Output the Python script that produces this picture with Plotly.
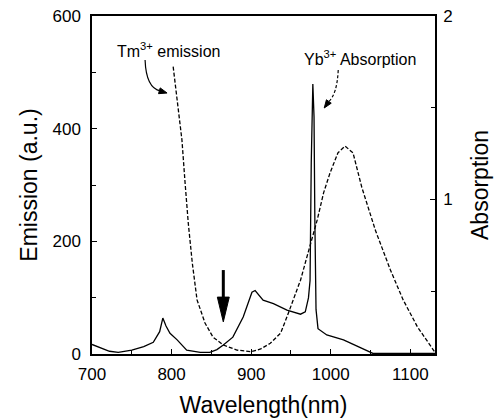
import plotly.graph_objects as go

# Tm3+ emission (dashed, left axis, a.u.)
em_nm = [802, 807, 813, 817, 821, 826, 832, 842, 852, 865, 882, 900, 912, 924, 937, 945,
         953, 962, 970, 983, 991, 999, 1009, 1018, 1028, 1039, 1052, 1056, 1075, 1091,
         1109, 1125, 1131]
em_val = [510, 451, 380, 303, 232, 162, 96, 55, 30, 16, 7, 4, 9, 19, 37, 66,
          96, 131, 172, 238, 286, 321, 357, 369, 357, 296, 238, 220, 149, 96,
          48, 16, 3]

# Yb3+ absorption (solid, right axis)
ab_nm = [700, 710, 722, 733, 750, 765, 777, 785, 789, 793, 798, 807, 819, 836, 848, 857,
         865, 877, 890, 901, 905, 915, 928, 945, 962, 968, 972, 974, 975.5, 977.5, 979,
         980, 981.5, 984, 995, 1016, 1037, 1053, 1080, 1131]
ab_val = [0.209, 0.191, 0.172, 0.166, 0.178, 0.197, 0.221, 0.279, 0.353, 0.310, 0.270,
          0.234, 0.178, 0.166, 0.166, 0.181, 0.206, 0.249, 0.359, 0.494, 0.503, 0.451,
          0.432, 0.396, 0.374, 0.387, 0.463, 0.558, 1.20, 1.629, 1.45, 0.90, 0.40,
          0.295, 0.261, 0.234, 0.191, 0.160, 0.160, 0.160]

x_range = [700, 1131]
y_range = [0, 600]
y2_range = [0.157, 2.0]

FONT = "Liberation Sans, Arial, sans-serif"

fig = go.Figure()
fig.add_trace(go.Scatter(x=em_nm, y=em_val, mode="lines", yaxis="y",
                         line=dict(color="black", width=1.3, dash="4px,2px"),
                         showlegend=False))
fig.add_trace(go.Scatter(x=ab_nm, y=ab_val, mode="lines", yaxis="y2",
                         line=dict(color="black", width=1.3),
                         showlegend=False))

axis_common = dict(showline=True, linecolor="black", linewidth=1.5, ticks="inside",
                   ticklen=5, tickcolor="black", showgrid=False, zeroline=False,
                   automargin=False,
                   tickfont=dict(size=17, color="black", family=FONT))

fig.update_layout(
    width=496, height=420,
    margin=dict(l=92, r=61, t=16, b=66),
    paper_bgcolor="white", plot_bgcolor="white",
    font=dict(family=FONT, color="black"),
    xaxis=dict(range=x_range, dtick=100, tick0=700, mirror=True,
               minor=dict(ticks="inside", dtick=50, ticklen=4, tickcolor="black"),
               title=dict(text="Wavelength(nm)", font=dict(size=23), standoff=14),
               ticklabelstandoff=4, **axis_common),
    yaxis=dict(range=y_range, dtick=200, tick0=0,
               minor=dict(ticks="inside", dtick=100, ticklen=4, tickcolor="black"),
               title=dict(text="Emission (a.u.)", font=dict(size=23), standoff=8),
               ticklabelstandoff=6, **axis_common),
    yaxis2=dict(range=y2_range, overlaying="y", side="right",
                tickvals=[1, 2], ticktext=["1", "2"],
                minor=dict(ticks="inside", tickvals=[0.5, 1.5], ticklen=4, tickcolor="black"),
                title=dict(text="Absorption", font=dict(size=23), standoff=20),
                ticklabelstandoff=3, **axis_common),
)

# Text labels
fig.add_annotation(xref="paper", yref="paper", x=(115 - 92) / 343, y=1 - (50 - 16) / 338,
                   xanchor="left", yanchor="middle", showarrow=False,
                   text="Tm<sup>3+</sup> emission", font=dict(size=16, color="black"))
fig.add_annotation(xref="paper", yref="paper", x=(302 - 92) / 343, y=1 - (58 - 16) / 338,
                   xanchor="left", yanchor="middle", showarrow=False,
                   text="Yb<sup>3+</sup> Absorption", font=dict(size=16, color="black"))

# curved pointer arrows (curve + filled head)
fig.add_shape(type="path", xref="x", yref="y",
              path="M 766.7,522 Q 768,472 786,467",
              line=dict(color="black", width=1.2))
fig.add_shape(type="path", xref="x", yref="y",
              path="M 794.3,463.3 L 783.6,462.1 L 785.7,472.4 Z",
              fillcolor="black", line=dict(color="black", width=1))
fig.add_shape(type="path", xref="x", yref="y",
              path="M 1009.4,504 Q 1008,462 997.5,448",
              line=dict(color="black", width=1.2, dash="3px,2px"))
fig.add_shape(type="path", xref="x", yref="y",
              path="M 991.8,436.7 L 1000.6,445.2 L 994.6,451.3 Z",
              fillcolor="black", line=dict(color="black", width=1))

# thick downward arrow at the crossing
fig.add_shape(type="line", xref="x", yref="y", x0=865, x1=865, y0=149, y1=98,
              line=dict(color="black", width=3))
fig.add_shape(type="path", xref="x", yref="y",
              path="M 865,57 L 857.5,101 L 872.5,101 Z",
              fillcolor="black", line=dict(color="black", width=1))

fig.write_html("out.html")
